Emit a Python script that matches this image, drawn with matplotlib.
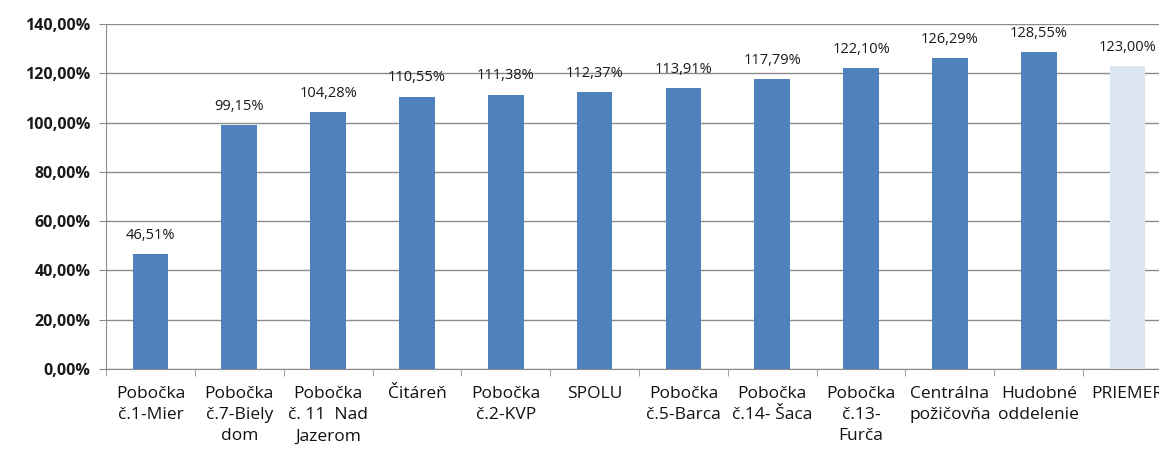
import matplotlib.pyplot as plt
import numpy as np

kategorie = ["Pobočka\nč.1-Mier", "Pobočka\nč.7-Biely\ndom", "Pobočka\nč. 11  Nad\nJazerom",
             "Čitáreň", "Pobočka\nč.2-KVP", "SPOLU", "Pobočka\nč.5-Barca",
             "Pobočka\nč.14- Šaca", "Pobočka\nč.13-\nFurča", "Centrálna\npožičovňa",
             "Hudobné\noddelenie", "PRIEMER"]
hodnoty = [46.51, 99.15, 104.28, 110.55, 111.38, 112.37, 113.91, 117.79, 122.10, 126.29, 128.55, 123.00]
farby = ["#4F81BD"] * 11 + ["#DCE6F2"]
y_ticky = [0, 20, 40, 60, 80, 100, 120, 140]

plt.rcParams['font.family'] = ['Open Sans', 'DejaVu Sans']

fig = plt.figure(figsize=(11.59, 4.54), dpi=100)
# os presahuje cez pravy okraj ako v povodnom obrazku
ax = fig.add_axes([106 / 1159, 85 / 454, 1066 / 1159, 345 / 454])

x = np.arange(len(hodnoty))
ax.bar(x, hodnoty, width=0.4, color=farby, zorder=3)

for xi, v in zip(x, hodnoty):
    ax.annotate(f"{v:.2f}%".replace(".", ","), (xi, v), xytext=(0, 8), textcoords="offset points",
                ha="center", va="bottom", fontsize=10.5, color="#1a1a1a")

ax.set_xlim(-0.5, len(hodnoty) - 0.5)
ax.set_ylim(0, 140)
ax.set_yticks(y_ticky)
ax.set_yticklabels([f"{t},00%" for t in y_ticky], fontsize=11.5, fontweight="bold", color="#1a1a1a")
ax.yaxis.grid(True, color="#8c8c8c", linewidth=1, zorder=0)

ax.set_xticks(x)
ax.set_xticklabels(kategorie, fontsize=12.5, linespacing=1.45, va="top", color="#111111")
ax.tick_params(axis="x", length=0, pad=12)
ax.set_xticks(np.arange(-0.5, len(hodnoty), 1), minor=True)
ax.tick_params(axis="x", which="minor", length=5, color="#8c8c8c")
ax.tick_params(axis="y", length=5, color="#8c8c8c", pad=6)

for s in ["top", "right"]:
    ax.spines[s].set_visible(False)
for s in ["left", "bottom"]:
    ax.spines[s].set_color("#8c8c8c")

fig.savefig("out.png", dpi=100)
